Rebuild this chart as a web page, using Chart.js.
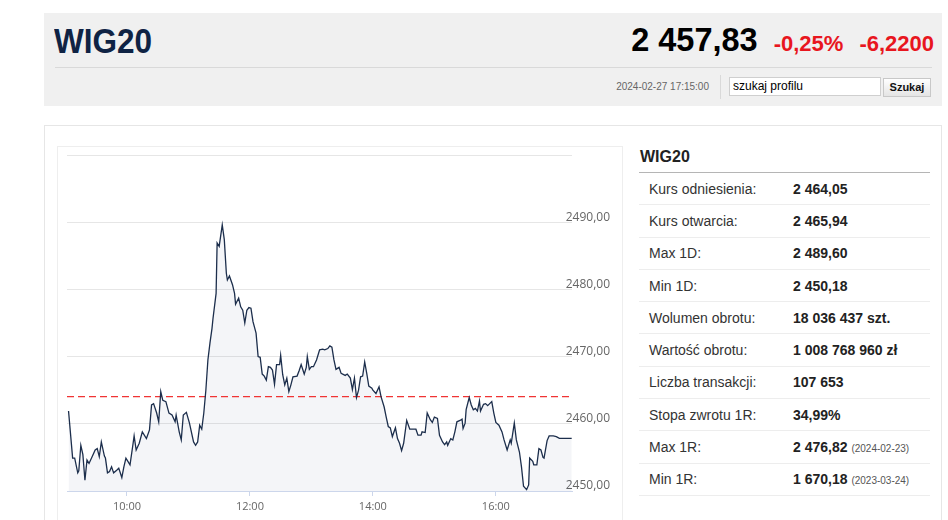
<!DOCTYPE html>
<html lang="pl">
<head>
<meta charset="utf-8">
<title>WIG20</title>
<script src="https://cdn.jsdelivr.net/npm/chart.js@4.4.1/dist/chart.umd.min.js"></script>
<style>
  html, body { margin: 0; padding: 0; background: #fff; }
  body { width: 948px; height: 520px; overflow: hidden; position: relative; font-family: "Liberation Sans", Arial, sans-serif; }

  .naglowek { position: absolute; left: 44px; top: 13px; width: 898px; height: 93px; background: #f0f0f0; }
  .naglowek .tytul { position: absolute; left: 10px; top: 6px; font-size: 35px; line-height: 44px; font-weight: bold; color: #0f2344; transform: scaleX(0.9); transform-origin: left center; }
  .naglowek .kurs { position: absolute; right: 8px; top: 5px; font-size: 32px; line-height: 44px; white-space: nowrap; font-weight: bold; }
  .kurs .wartosc { font-size: 32.5px; color: #000; }
  .kurs .zmiana { font-size: 22px; color: #e8161e; margin-left: 16px; }
  .naglowek .linia { position: absolute; left: 11px; top: 54px; width: 877px; height: 1px; background: #d9d9d9; }
  .naglowek .data { position: absolute; right: 233px; top: 68px; font-size: 10px; color: #666; }
  .naglowek .pion { position: absolute; left: 676px; top: 62px; width: 1px; height: 24px; background: #d9d9d9; }
  .naglowek .szukaj { position: absolute; left: 685px; top: 64px; width: 147px; height: 17px; background: #fff; border: 1px solid #cfcfcf; font-size: 12px; line-height: 17px; padding-left: 3px; box-sizing: content-box; color: #000; }
  .naglowek .przycisk { position: absolute; left: 839px; top: 65px; width: 46px; height: 17px; border: 1px solid #c8c8c8; background: linear-gradient(#ffffff, #e4e4e4); font-size: 11px; font-weight: bold; line-height: 17px; text-align: center; color: #111; }

  .panel { position: absolute; left: 44px; top: 125px; width: 896px; height: 420px; border: 1px solid #e6e6e6; }
  .ramka-wykresu { position: absolute; left: 57px; top: 146px; width: 564px; height: 400px; border: 1px solid #eeeeee; border-bottom: none; }
  .wykres { position: absolute; left: 58px; top: 147px; width: 564px; height: 373px; }

  .profil { position: absolute; left: 639px; top: 146px; width: 291px; }
  .profil h2 { margin: 0; padding-left: 1px; height: 26px; font-size: 16px; line-height: 22px; font-weight: bold; color: #222; border-bottom: 1px solid #b5b5b5; }
  .wiersz { display: flex; align-items: center; height: 32.3px; box-sizing: border-box; border-bottom: 1px solid #ededed; font-size: 14px; }
  .wiersz .etykieta { width: 144px; padding-left: 10px; color: #333; }
  .wiersz .wart { font-weight: bold; color: #222; }
  .wiersz .wart small { font-weight: normal; font-size: 10px; color: #555; }
</style>
</head>
<body>

<div class="naglowek">
  <div class="tytul">WIG20</div>
  <div class="kurs"><span class="wartosc">2 457,83</span><span class="zmiana">-0,25%</span><span class="zmiana">-6,2200</span></div>
  <div class="linia"></div>
  <div class="data">2024-02-27 17:15:00</div>
  <div class="pion"></div>
  <div class="szukaj">szukaj profilu</div>
  <div class="przycisk">Szukaj</div>
</div>

<div class="panel"></div>
<div class="ramka-wykresu"></div>
<div class="wykres"><canvas id="wykresWig"></canvas></div>

<div class="profil">
  <h2>WIG20</h2>
  <div id="tabela-profilu"></div>
</div>

<script>
// minuty od otwarcia sesji (9:00) i kurs indeksu
const minuty = [
  3, 7, 9, 12, 13, 15, 17, 19, 21, 23, 26, 29, 31, 33, 35, 38, 39, 41, 43, 45,
  47, 50, 52, 55, 57, 59, 63, 66, 67, 69, 72, 75, 79, 82, 84, 86, 89, 91, 93, 95,
  98, 101, 104, 107, 108, 111, 113, 115, 118, 121, 125, 127, 129, 131, 133, 135, 137, 139, 141, 143,
  144, 147, 148, 150, 153, 155, 157, 158, 160, 163, 165, 166, 169, 171, 173, 175, 177, 179, 181, 183,
  186, 188, 190, 192, 194, 196, 198, 200, 202, 204, 206, 209, 210, 212, 214, 216, 218, 220, 222, 226,
  228, 230, 233, 235, 236, 238, 240, 242, 245, 248, 251, 253, 256, 258, 260, 262, 264, 267, 269, 273,
  275, 278, 280, 282, 284, 286, 288, 290, 292, 294, 296, 299, 300, 303, 306, 308, 311, 313, 315, 317,
  319, 322, 324, 326, 328, 330, 333, 336, 339, 342, 344, 347, 348, 351, 353, 356, 358, 360, 363, 365,
  368, 370, 372, 373, 376, 378, 380, 382, 385, 387, 388, 390, 391, 394, 396, 398, 400, 402, 404, 405,
  408, 410, 412, 414, 416, 418, 420, 423, 426, 428, 431, 434, 435, 438, 440, 443, 445, 447, 450, 452,
  453, 456, 457, 460, 462, 464, 466, 467, 470, 472, 476, 479, 482, 494
];

const kurs = [
  2461.9, 2454.9, 2454.9, 2452.7, 2453.0, 2456.8, 2455.4, 2451.6, 2454.6, 2454.1,
  2455.1, 2456.1, 2456.3, 2455.1, 2457.3, 2455.2, 2454.9, 2452.7, 2452.9, 2453.6,
  2452.7, 2453.1, 2453.4, 2452.0, 2453.6, 2454.9, 2453.9, 2457.1, 2458.2, 2456.1,
  2457.1, 2458.8, 2457.8, 2459.1, 2462.8, 2463.0, 2461.6, 2460.3, 2464.8, 2463.5,
  2463.3, 2461.6, 2461.3, 2460.3, 2461.3, 2458.8, 2457.6, 2461.3, 2461.7, 2460.1,
  2457.3, 2456.8, 2457.3, 2459.8, 2459.2, 2461.6, 2465.0, 2469.5, 2472.0, 2474.2,
  2475.7, 2479.4, 2486.9, 2486.4, 2489.6, 2487.4, 2482.4, 2481.4, 2482.0, 2480.7,
  2479.4, 2477.8, 2478.7, 2477.4, 2476.9, 2475.0, 2476.9, 2477.3, 2477.2, 2475.2,
  2473.5, 2470.0, 2469.9, 2467.4, 2467.1, 2466.5, 2468.5, 2468.4, 2468.0, 2465.9,
  2468.8, 2468.8, 2470.2, 2467.3, 2465.8, 2466.8, 2464.8, 2465.8, 2467.0, 2467.1,
  2467.9, 2468.8, 2467.4, 2468.4, 2470.0, 2468.1, 2468.5, 2468.5, 2469.5, 2471.0,
  2471.1, 2471.0, 2471.2, 2471.6, 2471.4, 2469.5, 2468.1, 2468.4, 2467.5, 2467.2,
  2467.4, 2466.8, 2465.1, 2466.8, 2463.9, 2465.0, 2467.0, 2467.1, 2469.2, 2467.5,
  2465.6, 2465.3, 2465.0, 2464.5, 2465.5, 2464.0, 2462.5, 2461.0, 2459.6, 2459.4,
  2458.1, 2459.4, 2457.8, 2457.1, 2456.0, 2457.1, 2460.5, 2459.2, 2459.2, 2459.2,
  2458.3, 2458.3, 2458.8, 2458.7, 2461.6, 2460.6, 2460.2, 2461.0, 2460.8, 2458.3,
  2457.3, 2456.9, 2457.3, 2456.8, 2457.8, 2457.6, 2458.8, 2460.3, 2460.5, 2460.7,
  2459.3, 2460.1, 2462.1, 2463.9, 2462.8, 2462.1, 2462.3, 2461.9, 2463.4, 2461.9,
  2462.9, 2463.0, 2462.7, 2463.0, 2463.3, 2461.6, 2460.2, 2459.8, 2458.8, 2457.6,
  2456.1, 2457.6, 2457.1, 2460.1, 2457.6, 2455.8, 2453.6, 2450.7, 2450.2, 2450.9,
  2454.9, 2454.4, 2453.9, 2453.9, 2456.3, 2456.1, 2455.0, 2454.9, 2457.5, 2458.2,
  2458.2, 2458.1, 2457.83, 2457.83
];

const kursOdniesienia = 2464.05;
const godzinyOsi = ["10:00", "12:00", "14:00", "16:00"];
const poziomyOsiY = [2450, 2460, 2470, 2480, 2490, 2500];

const etykietyProfilu = [
  "Kurs odniesienia:", "Kurs otwarcia:", "Max 1D:", "Min 1D:", "Wolumen obrotu:",
  "Wartość obrotu:", "Liczba transakcji:", "Stopa zwrotu 1R:", "Max 1R:", "Min 1R:"
];
const wartosciProfilu = [
  "2 464,05", "2 465,94", "2 489,60", "2 450,18", "18 036 437 szt.",
  "1 008 768 960 zł", "107 653", "34,99%", "2 476,82", "1 670,18"
];
const datyProfilu = ["", "", "", "", "", "", "", "", "(2024-02-23)", "(2023-03-24)"];

const OSX_MIN = 1.5;
const OSX_MAX = 494.3;

function naMinuty(godzina) {
  const [h, m] = godzina.split(":").map(Number);
  return (h - 9) * 60 + m;
}

function naGodzine(wartosc) {
  const calk = Math.round(wartosc) + 9 * 60;
  const h = Math.floor(calk / 60);
  const m = String(calk % 60).padStart(2, "0");
  return `${h}:${m}`;
}

function formatKurs(v) {
  return v.toFixed(2).replace(".", ",");
}

function zbudujTabele() {
  const tabela = document.getElementById("tabela-profilu");
  etykietyProfilu.forEach((etykieta, i) => {
    const wiersz = document.createElement("div");
    wiersz.className = "wiersz";
    const data = datyProfilu[i] ? ` <small>${datyProfilu[i]}</small>` : "";
    wiersz.innerHTML = `<span class="etykieta">${etykieta}</span><span class="wart">${wartosciProfilu[i]}${data}</span>`;
    tabela.appendChild(wiersz);
  });
}

function rysujWykres() {
  const ctx = document.getElementById("wykresWig").getContext("2d");

  new Chart(ctx, {
    type: "line",
    data: {
      datasets: [
        {
          label: "WIG20",
          data: minuty.map((m, i) => ({ x: m, y: kurs[i] })),
          borderColor: "#1c2e4c",
          borderWidth: 1.3,
          // półprzezroczyste, żeby linie siatki i etykiety były widoczne pod wypełnieniem
          backgroundColor: "rgba(40, 62, 110, 0.05)",
          fill: "start",
          pointRadius: 0,
          tension: 0
        },
        {
          label: "Kurs odniesienia",
          data: [{ x: OSX_MIN, y: kursOdniesienia }, { x: OSX_MAX, y: kursOdniesienia }],
          borderColor: "#f03434",
          borderWidth: 1.2,
          borderDash: [7, 4],
          pointRadius: 0,
          fill: false
        }
      ]
    },
    options: {
      responsive: true,
      maintainAspectRatio: false,
      animation: false,
      layout: { padding: { left: 9, top: 8, right: 0, bottom: 0 } },
      plugins: {
        legend: { display: false },
        tooltip: { enabled: false },
        filler: { drawTime: "beforeDatasetsDraw" }
      },
      scales: {
        x: {
          type: "linear",
          min: OSX_MIN,
          max: OSX_MAX,
          afterBuildTicks: scale => {
            scale.ticks = godzinyOsi.map(g => ({ value: naMinuty(g) }));
          },
          afterFit: scale => {
            scale.height = 29;
            scale.paddingLeft = 0;
            scale.paddingRight = 0;
          },
          grid: { drawOnChartArea: false, drawTicks: true, tickLength: 5, color: "#ccd6eb" },
          border: { color: "#ccd6eb" },
          ticks: {
            padding: 4,
            color: "#666",
            font: { family: "'Open Sans', sans-serif", size: 11 },
            maxRotation: 0,
            callback: value => naGodzine(value)
          }
        },
        y: {
          position: "right",
          min: poziomyOsiY[0],
          max: poziomyOsiY[poziomyOsiY.length - 1],
          afterBuildTicks: scale => {
            scale.ticks = poziomyOsiY.map(v => ({ value: v }));
          },
          afterFit: scale => {
            scale.width = 50;
            scale.paddingTop = 0;
            scale.paddingBottom = 0;
          },
          grid: { color: "#e6e6e6", drawTicks: false },
          border: { display: false },
          ticks: {
            // mirror wyłącza przycinanie etykiet do obszaru osi
            mirror: true,
            padding: 38,
            labelOffset: -5,
            color: "#666",
            font: { family: "'Open Sans', sans-serif", size: 12 },
            callback: value => (value === poziomyOsiY[poziomyOsiY.length - 1] ? "" : formatKurs(value))
          }
        }
      }
    }
  });
}

window.addEventListener("DOMContentLoaded", () => {
  zbudujTabele();
  rysujWykres();
});
</script>
</body>
</html>
